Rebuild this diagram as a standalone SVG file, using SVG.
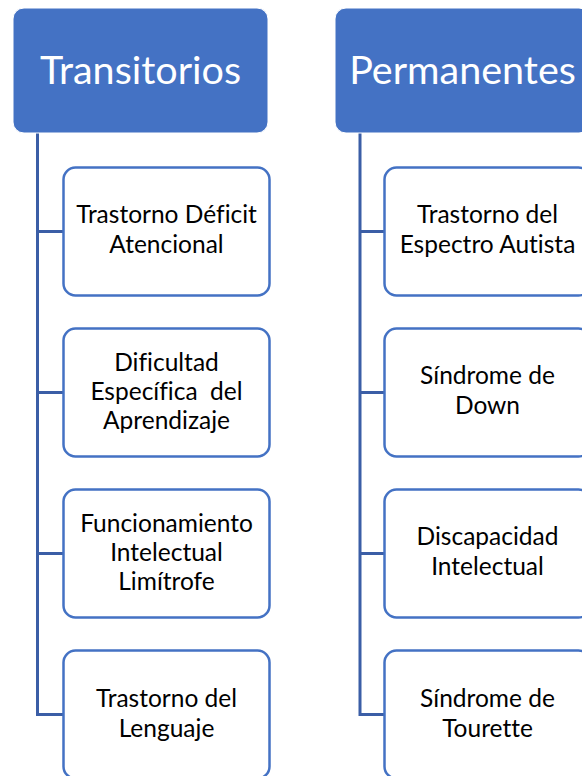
<svg xmlns="http://www.w3.org/2000/svg" width="582" height="776" viewBox="0 0 582 776">
<style>
.hdr{fill:#4472C4;stroke:#ffffff;stroke-width:1}
.hdrt{font-family:Lato,"Open Sans","Liberation Sans",sans-serif;font-size:39.5px;fill:#ffffff;text-anchor:middle;font-variant-ligatures:none}
.box{fill:#ffffff;stroke:#4472C4;stroke-width:2.5}
.t{font-family:Lato,"Open Sans","Liberation Sans",sans-serif;font-size:24.5px;fill:#000000;text-anchor:middle;font-variant-ligatures:none}
.con{fill:none;stroke:#3B5EA6;stroke-width:3}
</style>
<rect width="582" height="776" fill="#ffffff"/>
<g id="connectors">
<path class="con" d="M37.5 133 V714.5 H63 M37.5 231.5 H63 M37.5 392.5 H63 M37.5 553.5 H63"/>
<path class="con" d="M360 133 V714.5 H384 M360 231.5 H384 M360 392.5 H384 M360 553.5 H384"/>
</g>
<g id="transitorios">
<rect class="hdr" x="13" y="8" width="255" height="125" rx="11"/>
<text class="hdrt" x="140.5" y="83.5">Transitorios</text>
</g>
<g id="permanentes">
<rect class="hdr" x="335" y="8" width="255" height="125" rx="11"/>
<text class="hdrt" x="462.5" y="83.5">Permanentes</text>
</g>
<g id="tda">
<rect class="box" x="63.5" y="167.5" width="206" height="128" rx="12"/>
<text class="t" x="166.5" y="223">Trastorno Déficit</text>
<text class="t" x="166.5" y="252.5">Atencional</text>
</g>
<g id="dea">
<rect class="box" x="63.5" y="328.5" width="206" height="128" rx="12"/>
<text class="t" x="166.5" y="370.5">Dificultad</text>
<text class="t" x="166.5" y="400" xml:space="preserve">Específica  del</text>
<text class="t" x="166.5" y="429">Aprendizaje</text>
</g>
<g id="fil">
<rect class="box" x="63.5" y="489.5" width="206" height="128" rx="12"/>
<text class="t" x="166.5" y="531.5">Funcionamiento</text>
<text class="t" x="166.5" y="561">Intelectual</text>
<text class="t" x="166.5" y="590">Limítrofe</text>
</g>
<g id="tel">
<rect class="box" x="63.5" y="650.5" width="206" height="128" rx="12"/>
<text class="t" x="166.5" y="707">Trastorno del</text>
<text class="t" x="166.5" y="736.5">Lenguaje</text>
</g>
<g id="tea">
<rect class="box" x="384.5" y="167.5" width="206" height="128" rx="12"/>
<text class="t" x="487.5" y="223">Trastorno del</text>
<text class="t" x="487.5" y="252.5">Espectro Autista</text>
</g>
<g id="down">
<rect class="box" x="384.5" y="328.5" width="206" height="128" rx="12"/>
<text class="t" x="487.5" y="384">Síndrome de</text>
<text class="t" x="487.5" y="413.5">Down</text>
</g>
<g id="di">
<rect class="box" x="384.5" y="489.5" width="206" height="128" rx="12"/>
<text class="t" x="487.5" y="545">Discapacidad</text>
<text class="t" x="487.5" y="574.5">Intelectual</text>
</g>
<g id="tourette">
<rect class="box" x="384.5" y="650.5" width="206" height="128" rx="12"/>
<text class="t" x="487.5" y="707">Síndrome de</text>
<text class="t" x="487.5" y="736.5">Tourette</text>
</g>
</svg>
